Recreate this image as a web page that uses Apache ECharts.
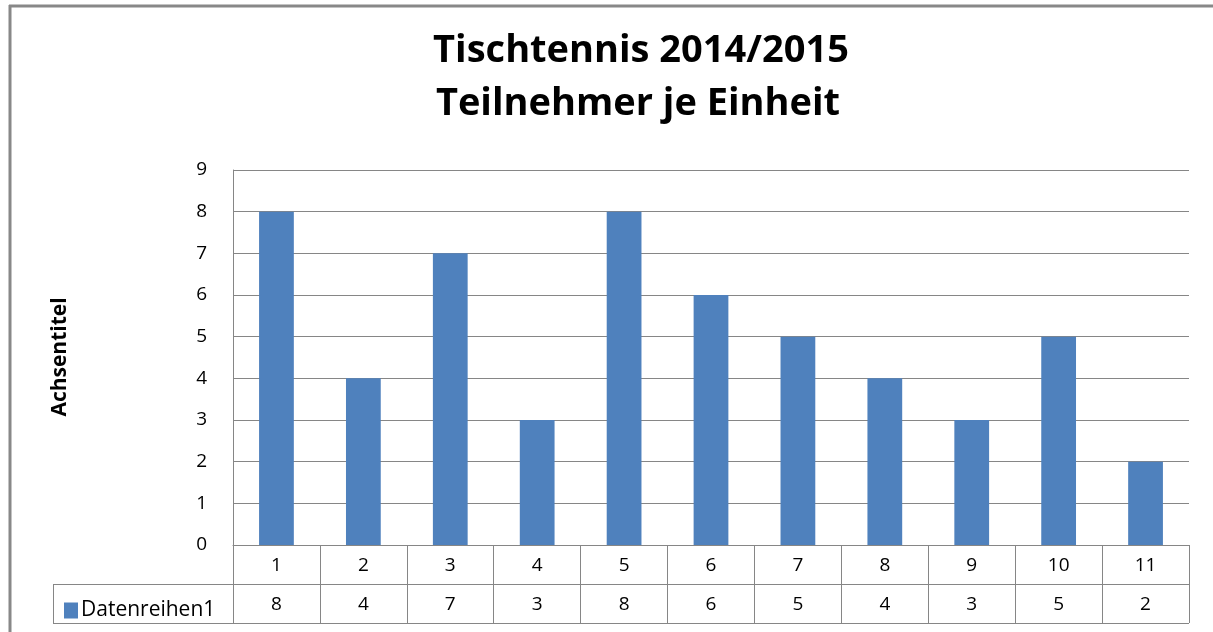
<!DOCTYPE html>
<html>
<head>
<meta charset="utf-8">
<script src="https://cdn.jsdelivr.net/npm/echarts@6/dist/echarts.min.js"></script>
<style>
html,body{margin:0;padding:0;background:#fff;}
#chart{width:1213px;height:632px;}
</style>
</head>
<body>
<div id="chart"></div>
<script>
const titleLines = ['Tischtennis 2014/2015', 'Teilnehmer je Einheit'];
const categories = ['1','2','3','4','5','6','7','8','9','10','11'];
const seriesName = 'Datenreihen1';
const values = [8, 4, 7, 3, 8, 6, 5, 4, 3, 5, 2];
const yTicks = [0, 1, 2, 3, 4, 5, 6, 7, 8, 9];
const yAxisTitle = 'Achsentitel';

const FONT = 'Open Sans';
const GRID = {left: 233, right: 24, top: 170, bottom: 87};
const gridLine = '#868686';
const titleStyle = {fontFamily: FONT, fontSize: 38, fontWeight: 'bold', fill: '#000', align: 'center', verticalAlign: 'middle'};

const chart = echarts.init(document.getElementById('chart'), null, {renderer: 'canvas'});
chart.setOption({
  backgroundColor: '#fff',
  animation: false,
  legend: {
    data: [seriesName],
    left: 59,
    top: 595,
    icon: 'rect',
    itemWidth: 14,
    itemHeight: 16,
    itemGap: 4,
    textStyle: {fontFamily: FONT, fontSize: 21, color: '#000', padding: [0,0,0,-2]}
  },
  grid: GRID,
  xAxis: [{
    type: 'category',
    data: categories,
    position: 'bottom',
    axisLine: {show: true, lineStyle: {color: gridLine, width: 1}},
    axisTick: {show: true, length: 78, lineStyle: {color: gridLine, width: 1}},
    axisLabel: {fontFamily: FONT, fontSize: 19, color: '#000', margin: 11},
    splitLine: {show: false}
  }, {
    type: 'category',
    data: categories,
    position: 'bottom',
    offset: 39,
    axisLine: {show: false},
    axisTick: {show: false},
    axisLabel: {fontFamily: FONT, fontSize: 19, color: '#000', margin: 11,
      formatter: (v, i) => String(values[i])},
    splitLine: {show: false}
  }],
  yAxis: {
    type: 'value',
    min: yTicks[0],
    max: yTicks[yTicks.length - 1],
    interval: 1,
    axisLine: {show: true, lineStyle: {color: gridLine, width: 1}},
    axisTick: {show: false},
    axisLabel: {fontFamily: FONT, fontSize: 19, color: '#000', margin: 26},
    splitLine: {show: true, lineStyle: {color: gridLine, width: 1}}
  },
  series: [{
    name: seriesName,
    type: 'bar',
    data: values,
    barWidth: '40%',
    itemStyle: {color: '#4F81BD'}
  }],
  graphic: [
    // title lines
    {type: 'text', x: 641, y: 51, style: Object.assign({text: titleLines[0]}, titleStyle)},
    {type: 'text', x: 638, y: 104, style: Object.assign({text: titleLines[1]}, titleStyle)},
    // outer frame (top and left edges)
    {type: 'line', shape: {x1: 9, y1: 6, x2: 1213, y2: 6}, style: {stroke: '#888', lineWidth: 3}},
    {type: 'line', shape: {x1: 10, y1: 5, x2: 10, y2: 632}, style: {stroke: '#888', lineWidth: 3}},
    // data table borders
    {type: 'line', shape: {x1: 53, y1: 584.5, x2: 1189, y2: 584.5}, style: {stroke: gridLine, lineWidth: 1}},
    {type: 'line', shape: {x1: 53, y1: 623.5, x2: 1189, y2: 623.5}, style: {stroke: gridLine, lineWidth: 1}},
    {type: 'line', shape: {x1: 53.5, y1: 584, x2: 53.5, y2: 624}, style: {stroke: gridLine, lineWidth: 1}},
    // axis title
    {type: 'text', x: 60, y: 357, rotation: Math.PI / 2,
      style: {text: yAxisTitle, fontFamily: FONT, fontSize: 21, fontWeight: 'bold', fill: '#000',
        align: 'center', verticalAlign: 'middle'}}
  ]
});
</script>
</body>
</html>
